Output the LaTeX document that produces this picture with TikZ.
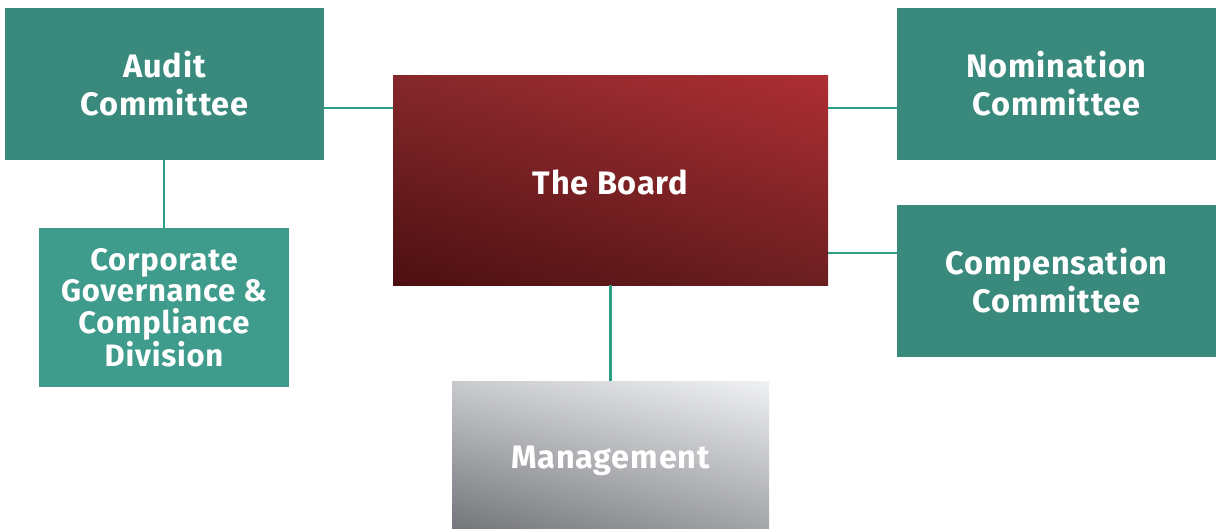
\documentclass[tikz,border=0pt]{standalone}
\usepackage{fontspec}
\usetikzlibrary{shadings}
\setmainfont{Fira Sans}[LetterSpace=2.5]
\definecolor{teal1}{HTML}{3A897D}
\definecolor{teal2}{HTML}{3F9C8C}
\definecolor{linec}{HTML}{2E9E84}
\definecolor{bUR}{HTML}{AE2E33}
\definecolor{bUL}{HTML}{85282B}
\definecolor{bLL}{HTML}{4C0F11}
\definecolor{bLR}{HTML}{6C1F21}
\definecolor{mUR}{HTML}{F0F1F3}
\definecolor{mUL}{HTML}{C9CACD}
\definecolor{mLL}{HTML}{75767B}
\definecolor{mLR}{HTML}{A4A5A9}
\tikzset{
  x=1pt,y=1pt,
  box/.style={inner sep=0pt, outer sep=0pt, align=center, text=white,
    font=\fontsize{32.5}{38}\selectfont\bfseries},
  tealbox/.style={box, fill=teal1},
  link/.style={draw=linec, line width=2.6pt},
}
\begin{document}
\begin{tikzpicture}
\useasboundingbox (0,0) rectangle (1217,528);
% Audit: x 5-324, y 8-160
\node[tealbox, minimum width=319pt, minimum height=152pt] (audit) at (164.5,444) {Audit\\Committee};
% Board: x 393-828, y 76-285
\node[box, shading=bilinear interpolation, upper right=bUR, upper left=bUL, lower left=bLL, lower right=bLR,
  minimum width=435pt, minimum height=209pt] (board) at (610.5,347.5) {\raisebox{-14.5pt}[0pt][0pt]{The Board}};
% Nomination x 897-1216, y 8-160
\node[tealbox, minimum width=319pt, minimum height=152pt] (nom) at (1056.5,444) {Nomination\\Committee};
% Compensation x 897-1216, y 205-357
\node[tealbox, minimum width=319pt, minimum height=152pt] (comp) at (1056.5,247) {Compensation\\Committee};
% CGC x 39-289, y 228-387
\node[box, fill=teal2, minimum width=250pt, minimum height=159pt, font=\fontsize{31}{31.7}\selectfont\bfseries] (cgc) at (164,220.5) {Corporate\\Governance \&\\Compliance\\Division};
% Management x 452-769, y 381-528
\node[box, shading=bilinear interpolation, upper right=mUR, upper left=mUL, lower left=mLL, lower right=mLR,
  minimum width=317pt, minimum height=147pt] (mgmt) at (610.5,73.5) {\raisebox{-13.7pt}[0pt][0pt]{Management}};
% connectors
\draw[link] (audit.east |- 0,420) -- (board.west |- 0,420);
\draw[link] (board.east |- 0,420) -- (nom.west |- 0,420);
\draw[link] (board.east |- 0,275) -- (comp.west |- 0,275);
\draw[link] (audit.south -| 164,0) -- (cgc.north -| 164,0);
\draw[link] (board.south) -- (mgmt.north);
\end{tikzpicture}
\end{document}
